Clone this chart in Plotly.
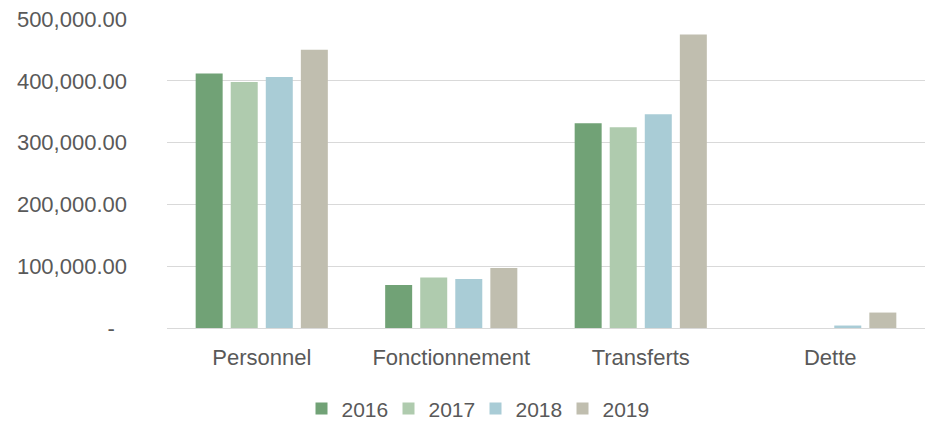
import plotly.graph_objects as go

categories = ["Personnel", "Fonctionnement", "Transferts", "Dette"]
years = ["2016", "2017", "2018", "2019"]
v2016 = [411700, 69700, 331300, 0]
v2017 = [398200, 81700, 324800, 0]
v2018 = [406300, 79400, 345900, 4000]
v2019 = [450100, 97200, 474900, 25000]
series = [v2016, v2017, v2018, v2019]
colors = ["#71A276", "#AFCBAE", "#A9CCD6", "#C0BEAF"]

tick_vals = [0, 100000, 200000, 300000, 400000, 500000]
tick_text = ["-\u00a0\u00a0", "100,000.00", "200,000.00", "300,000.00", "400,000.00", "500,000.00"]

font_family = "Liberation Sans, Arial, sans-serif"
text_color = "#595959"

fig = go.Figure()
for y, vals, c in zip(years, series, colors):
    fig.add_trace(go.Bar(name=y, x=categories, y=vals, marker=dict(color=c, line=dict(width=0))))

fig.update_layout(
    width=925, height=422,
    barmode="group", bargap=0.26, bargroupgap=0.23,
    plot_bgcolor="white", paper_bgcolor="white",
    margin=dict(l=167, r=0, t=19, b=94, autoexpand=False),
    font=dict(family=font_family, size=22, color=text_color),
    showlegend=True,
    legend=dict(orientation="h", xref="paper", yref="paper",
                x=0.407, y=-0.262, xanchor="center", yanchor="middle",
                font=dict(size=21, color=text_color), itemwidth=30,
                entrywidth=42, entrywidthmode="pixels",
                traceorder="normal"),
)
fig.update_yaxes(range=[0, 500000], tickvals=tick_vals, ticktext=tick_text,
                 showgrid=True, gridcolor="#D9D9D9", gridwidth=1,
                 zeroline=True, zerolinecolor="#D9D9D9", zerolinewidth=1,
                 showline=False, ticks="", ticklabelstandoff=39, automargin=False)
fig.update_xaxes(showgrid=False, showline=False, ticks="", ticklabelstandoff=14, automargin=False)

fig.write_html("out.html", config={"displayModeBar": False},
               post_script="document.body.style.margin='0';document.body.style.padding='0';")
